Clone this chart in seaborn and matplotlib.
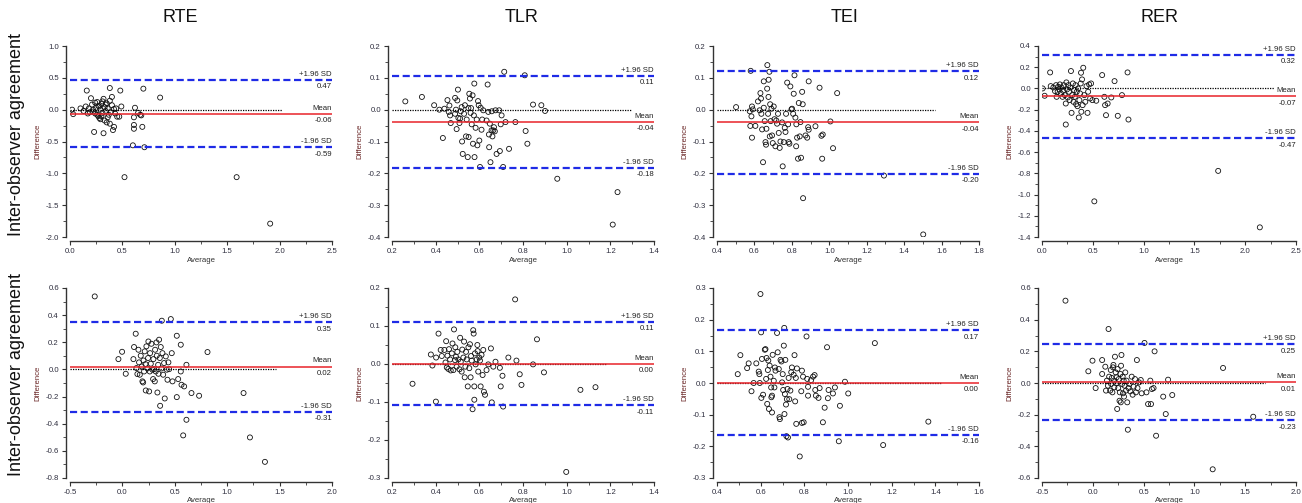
import numpy as np
import seaborn as sns
import matplotlib.pyplot as plt
from matplotlib.ticker import FormatStrFormatter
import matplotlib.transforms as mtransforms

# column titles and row labels
titles = ["RTE", "TLR", "TEI", "RER"]
row_labels = ["Inter-observer agreement", "Inter-observer agreement"]

# ---- row 1 ----
rte1_avg = [0.02, 0.03, 0.10, 0.13, 0.15, 0.16, 0.17, 0.18, 0.19, 0.20, 0.21, 0.22, 0.22, 0.23, 0.24, 0.24,
            0.25, 0.26, 0.26, 0.27, 0.27, 0.28, 0.28, 0.29, 0.29, 0.30, 0.30, 0.31, 0.31, 0.32, 0.32, 0.33,
            0.33, 0.34, 0.34, 0.35, 0.35, 0.36, 0.36, 0.37, 0.38, 0.38, 0.38, 0.39, 0.40, 0.40, 0.41, 0.42,
            0.42, 0.43, 0.44, 0.45, 0.47, 0.48, 0.49, 0.52, 0.60, 0.61, 0.61, 0.61, 0.62, 0.65, 0.67, 0.68,
            0.69, 0.70, 0.71, 0.86, 1.59, 1.91]
rte1_diff = [0.00, -0.07, 0.02, -0.02, 0.05, 0.30, -0.06, 0.02, -0.04, 0.18, 0.08, -0.03, 0.00, -0.35, 0.11, -0.06,
             0.03, -0.08, 0.12, 0.06, -0.10, -0.13, 0.05, 0.00, -0.15, 0.09, -0.10, -0.05, 0.13, -0.37, 0.17, 0.04,
             -0.17, -0.02, 0.08, 0.10, -0.20, 0.02, -0.12, -0.08, 0.34, 0.14, -0.22, -0.04, 0.20, 0.07, -0.32, -0.27,
             0.01, -0.06, 0.02, -0.11, -0.11, 0.30, 0.05, -1.06, -0.56, -0.12, -0.24, -0.30, 0.03, -0.05, -0.08, -0.09,
             -0.27, 0.33, -0.59, 0.19, -1.06, -1.79]

tlr1_avg = [0.261, 0.337, 0.393, 0.417, 0.440, 0.454, 0.460, 0.463, 0.466, 0.469, 0.433, 0.489, 0.493, 0.489,
            0.499, 0.502, 0.496, 0.504, 0.509, 0.512, 0.515, 0.519, 0.521, 0.524, 0.530, 0.534, 0.539, 0.542,
            0.547, 0.550, 0.551, 0.554, 0.557, 0.560, 0.562, 0.565, 0.569, 0.571, 0.575, 0.577, 0.578, 0.583,
            0.588, 0.591, 0.594, 0.597, 0.600, 0.603, 0.606, 0.610, 0.613, 0.618, 0.633, 0.638, 0.641, 0.644,
            0.645, 0.648, 0.651, 0.656, 0.657, 0.660, 0.664, 0.667, 0.671, 0.674, 0.679, 0.691, 0.694, 0.698,
            0.702, 0.709, 0.714, 0.720, 0.736, 0.765, 0.808, 0.812, 0.820, 0.846, 0.884, 0.901, 0.957, 1.211, 1.233]
tlr1_diff = [0.026, 0.040, 0.014, 0.000, 0.003, 0.030, -0.007, 0.013, -0.018, -0.042, -0.089, -0.013, 0.000, 0.037,
             0.029, 0.063, -0.061, -0.026, -0.042, -0.028, -0.005, 0.008, -0.100, -0.139, -0.013, 0.014, -0.084, -0.031,
             -0.149, 0.005, -0.086, 0.050, 0.035, -0.010, 0.005, -0.046, 0.045, -0.107, -0.018, 0.082, -0.149, -0.057,
             -0.031, -0.112, 0.027, 0.014, -0.097, -0.180, 0.006, -0.063, -0.031, -0.002, -0.034, 0.079, -0.007, -0.078,
             -0.118, -0.044, -0.165, -0.065, -0.005, -0.084, -0.065, -0.055, -0.068, -0.002, -0.139, -0.002, -0.130, -0.046,
             -0.018, -0.180, 0.119, -0.039, -0.123, -0.039, 0.108, -0.067, -0.107, 0.016, 0.014, -0.004, -0.217, -0.361, -0.259]

tei1_avg = [0.502, 0.575, 0.580, 0.584, 0.587, 0.591, 0.578, 0.587, 0.605, 0.619, 0.628, 0.632, 0.635, 0.637,
            0.641, 0.646, 0.650, 0.650, 0.655, 0.659, 0.662, 0.664, 0.668, 0.669, 0.673, 0.675, 0.676, 0.680,
            0.682, 0.684, 0.687, 0.691, 0.694, 0.698, 0.703, 0.707, 0.712, 0.717, 0.721, 0.726, 0.730, 0.735,
            0.739, 0.748, 0.751, 0.757, 0.762, 0.766, 0.769, 0.775, 0.780, 0.783, 0.787, 0.792, 0.798, 0.801,
            0.807, 0.810, 0.814, 0.819, 0.823, 0.824, 0.828, 0.833, 0.837, 0.842, 0.846, 0.849, 0.855, 0.858,
            0.860, 0.873, 0.882, 0.887, 0.890, 0.890, 0.926, 0.948, 0.958, 0.962, 0.965, 1.006, 1.020, 1.042,
            1.292, 1.502]
tei1_diff = [0.008, -0.005, 0.122, -0.021, 0.010, 0.001, -0.051, -0.088, -0.051, 0.026, -0.002, 0.052, 0.035, -0.013,
             -0.062, -0.165, 0.089, 0.006, -0.036, -0.102, -0.110, -0.060, 0.066, 0.140, -0.013, 0.040, 0.094, 0.119,
             -0.084, 0.017, -0.036, 0.003, -0.081, -0.105, 0.010, -0.030, -0.115, -0.034, -0.044, -0.013, -0.073, -0.120,
             -0.100, -0.040, -0.178, -0.102, -0.057, -0.070, -0.013, 0.085, -0.046, -0.102, -0.107, 0.073, 0.001, 0.003,
             -0.013, 0.050, 0.108, -0.025, -0.115, -0.046, -0.088, -0.154, 0.021, -0.084, -0.039, -0.151, 0.056, 0.017,
             -0.278, -0.081, -0.088, -0.055, -0.063, 0.089, -0.052, 0.069, -0.082, -0.154, -0.078, -0.037, -0.121, 0.052,
             -0.207, -0.392]

rer1_avg = [0.006, 0.026, 0.080, 0.086, 0.112, 0.128, 0.138, 0.144, 0.154, 0.160, 0.170, 0.176, 0.186, 0.192,
            0.202, 0.208, 0.214, 0.224, 0.234, 0.234, 0.240, 0.246, 0.253, 0.259, 0.266, 0.272, 0.278, 0.285,
            0.291, 0.298, 0.304, 0.310, 0.317, 0.323, 0.330, 0.336, 0.342, 0.349, 0.355, 0.362, 0.368, 0.374,
            0.381, 0.384, 0.387, 0.394, 0.400, 0.406, 0.416, 0.426, 0.438, 0.448, 0.454, 0.464, 0.474, 0.483,
            0.496, 0.534, 0.592, 0.614, 0.621, 0.630, 0.646, 0.682, 0.714, 0.746, 0.787, 0.842, 0.851, 0.515,
            1.734, 2.144]
rer1_diff = [0.000, -0.069, 0.151, 0.022, 0.009, -0.025, 0.031, -0.079, -0.031, 0.016, -0.009, 0.038, -0.047, 0.009,
             -0.079, -0.022, 0.031, -0.063, -0.142, -0.340, 0.057, -0.009, -0.085, 0.031, -0.031, -0.110, 0.009, 0.164,
             -0.230, -0.063, 0.047, -0.126, -0.016, -0.079, 0.031, -0.148, -0.031, -0.167, 0.000, -0.274, -0.110, -0.047,
             0.047, 0.148, -0.220, 0.085, -0.157, 0.195, -0.063, -0.126, 0.022, -0.230, -0.031, 0.038, -0.094, 0.047,
             -0.110, -0.116, 0.126, -0.079, -0.157, -0.252, -0.142, -0.085, 0.069, -0.258, -0.063, 0.151, -0.293, -1.064,
             -0.777, -1.309]

# ---- row 2 ----
rte2_avg = [-0.264, -0.038, -0.003, 0.032, 0.105, 0.111, 0.127, 0.134, 0.143, 0.153, 0.159, 0.166, 0.175, 0.185,
            0.191, 0.198, 0.201, 0.207, 0.213, 0.220, 0.223, 0.229, 0.239, 0.245, 0.248, 0.255, 0.261, 0.264,
            0.271, 0.277, 0.287, 0.293, 0.296, 0.303, 0.309, 0.312, 0.318, 0.325, 0.328, 0.334, 0.341, 0.344,
            0.350, 0.357, 0.360, 0.366, 0.373, 0.376, 0.382, 0.389, 0.398, 0.404, 0.414, 0.424, 0.430, 0.439,
            0.446, 0.462, 0.471, 0.478, 0.519, 0.519, 0.532, 0.557, 0.557, 0.564, 0.580, 0.589, 0.611, 0.611,
            0.659, 0.732, 0.812, 1.156, 1.217, 1.360]
rte2_diff = [0.538, 0.076, 0.130, -0.032, 0.076, 0.165, 0.263, 0.010, -0.034, 0.145, 0.052, -0.039, 0.101, 0.022,
             -0.088, -0.096, 0.066, -0.015, 0.133, 0.039, -0.155, 0.170, 0.007, 0.084, 0.206, -0.162, -0.015, 0.120,
             0.042, 0.189, -0.002, -0.071, 0.076, 0.002, -0.088, 0.145, -0.015, 0.199, 0.101, -0.170, 0.034, -0.032,
             0.219, 0.084, -0.268, 0.165, 0.007, 0.359, 0.120, -0.039, 0.047, -0.214, 0.096, -0.002, -0.076, 0.052,
             0.002, 0.371, 0.120, -0.088, -0.204, 0.248, -0.071, 0.182, -0.015, -0.113, -0.486, -0.125, -0.371, 0.034,
             -0.174, -0.194, 0.128, -0.174, -0.501, -0.681]

tlr2_avg = [0.294, 0.378, 0.385, 0.401, 0.402, 0.413, 0.423, 0.428, 0.440, 0.445, 0.448, 0.451, 0.454, 0.458,
            0.461, 0.466, 0.469, 0.474, 0.477, 0.481, 0.484, 0.489, 0.490, 0.493, 0.496, 0.499, 0.504, 0.509,
            0.512, 0.515, 0.519, 0.522, 0.527, 0.530, 0.533, 0.536, 0.539, 0.542, 0.547, 0.550, 0.554, 0.557,
            0.560, 0.562, 0.565, 0.569, 0.572, 0.574, 0.577, 0.577, 0.580, 0.583, 0.588, 0.591, 0.592, 0.595,
            0.600, 0.603, 0.606, 0.610, 0.615, 0.618, 0.621, 0.626, 0.633, 0.641, 0.653, 0.657, 0.664, 0.674,
            0.694, 0.698, 0.706, 0.709, 0.733, 0.764, 0.770, 0.785, 0.793, 0.846, 0.864, 0.896, 1.063, 1.132, 0.998]
tlr2_diff = [-0.052, 0.025, -0.004, -0.099, 0.017, 0.080, 0.037, 0.021, 0.037, 0.004, 0.060, -0.009, 0.022, -0.013,
             0.039, 0.012, -0.017, 0.028, 0.054, -0.016, 0.091, 0.010, 0.044, 0.019, -0.007, 0.032, 0.012, -0.014,
             0.069, 0.006, -0.020, 0.038, 0.017, 0.059, -0.035, -0.007, 0.032, 0.012, -0.059, 0.044, -0.011, 0.052,
             -0.035, 0.021, 0.009, -0.119, 0.089, 0.080, -0.059, -0.094, 0.028, -0.001, 0.012, 0.050, 0.034, -0.020,
             0.017, 0.009, -0.059, 0.024, -0.029, 0.037, -0.073, -0.081, -0.016, -0.001, 0.041, -0.101, -0.007, 0.006,
             -0.010, -0.059, -0.031, -0.112, 0.017, 0.170, 0.009, -0.027, -0.055, -0.001, 0.065, -0.022, -0.068, -0.061, -0.284]

tei2_avg = [0.495, 0.507, 0.538, 0.545, 0.558, 0.568, 0.580, 0.591, 0.594, 0.596, 0.599, 0.602, 0.603, 0.606,
            0.611, 0.619, 0.622, 0.625, 0.627, 0.630, 0.633, 0.635, 0.638, 0.641, 0.645, 0.648, 0.649, 0.652,
            0.652, 0.655, 0.660, 0.663, 0.665, 0.668, 0.675, 0.678, 0.683, 0.686, 0.688, 0.691, 0.695, 0.698,
            0.701, 0.703, 0.706, 0.708, 0.709, 0.711, 0.713, 0.716, 0.718, 0.720, 0.723, 0.725, 0.728, 0.731,
            0.736, 0.740, 0.743, 0.751, 0.755, 0.758, 0.761, 0.763, 0.766, 0.779, 0.786, 0.789, 0.789, 0.797,
            0.794, 0.810, 0.813, 0.817, 0.817, 0.831, 0.840, 0.847, 0.850, 0.853, 0.865, 0.870, 0.885, 0.893,
            0.904, 0.908, 0.911, 0.931, 0.940, 0.963, 0.958, 0.986, 1.001, 1.123, 1.161, 1.368]
tei2_diff = [0.028, 0.088, 0.047, 0.062, -0.026, 0.000, 0.062, 0.036, 0.028, 0.000, 0.281, 0.160, -0.047, 0.076,
             -0.037, 0.105, 0.107, 0.013, 0.079, -0.066, 0.041, 0.071, -0.082, 0.055, 0.020, -0.014, -0.045, -0.093,
             -0.040, 0.089, 0.007, -0.014, 0.049, 0.039, 0.158, 0.097, 0.044, -0.108, -0.114, 0.073, 0.068, 0.002,
             0.028, -0.022, 0.118, 0.174, -0.098, -0.035, 0.073, -0.068, -0.168, -0.051, -0.019, -0.172, 0.016, -0.051,
             -0.024, 0.034, 0.049, 0.026, 0.088, -0.058, 0.016, -0.129, 0.046, -0.232, -0.026, 0.039, -0.126, -0.124,
             0.020, 0.147, 0.013, -0.012, -0.040, 0.009, 0.020, 0.025, -0.022, -0.040, -0.047, -0.016, -0.124, -0.078,
             0.113, -0.048, -0.022, -0.033, -0.014, -0.072, -0.184, 0.004, -0.033, 0.126, -0.196, -0.122]

rer2_avg = [-0.269, -0.044, -0.003, 0.028, 0.092, 0.092, 0.123, 0.130, 0.139, 0.149, 0.155, 0.161, 0.171, 0.177,
            0.180, 0.187, 0.193, 0.199, 0.203, 0.209, 0.212, 0.218, 0.225, 0.231, 0.234, 0.240, 0.244, 0.250,
            0.256, 0.263, 0.266, 0.272, 0.275, 0.278, 0.282, 0.288, 0.294, 0.297, 0.304, 0.307, 0.313, 0.320,
            0.326, 0.332, 0.339, 0.345, 0.351, 0.361, 0.370, 0.383, 0.392, 0.402, 0.415, 0.424, 0.434, 0.440,
            0.456, 0.472, 0.481, 0.509, 0.528, 0.544, 0.566, 0.573, 0.582, 0.598, 0.608, 0.623, 0.693, 0.718,
            0.741, 0.782, 1.180, 1.282, 1.579]
rer2_diff = [0.520, 0.074, 0.141, -0.032, 0.145, 0.057, 0.103, -0.048, 0.015, -0.017, 0.341, 0.040, -0.048, 0.082,
             -0.006, 0.032, -0.059, 0.099, 0.114, 0.015, -0.027, 0.166, 0.067, -0.002, 0.036, -0.164, 0.088, -0.032,
             0.025, -0.112, -0.059, 0.057, -0.122, 0.109, 0.177, -0.006, 0.040, -0.065, 0.015, -0.086, -0.017, 0.067,
             -0.048, 0.015, -0.122, -0.295, -0.032, -0.006, -0.053, 0.040, -0.074, -0.023, 0.025, -0.059, 0.145, -0.032,
             0.004, 0.019, -0.065, 0.253, -0.059, -0.133, 0.015, -0.133, -0.038, -0.032, 0.200, -0.333, -0.086, -0.196,
             0.021, -0.076, -0.545, 0.095, -0.213]

# limits of agreement (upper, mean, lower) per panel, row by row
upper_loa = [0.466, 0.106, 0.121, 0.316, 0.348, 0.111, 0.166, 0.246]
mean_diff = [-0.063, -0.038, -0.039, -0.073, 0.021, 0.001, 0.001, 0.006]
lower_loa = [-0.592, -0.183, -0.201, -0.47, -0.311, -0.109, -0.164, -0.234]
# where the dotted zero line stops
zero_end = [2.02, 1.30, 1.565, 2.28, 1.465, 1.185, 1.424, 1.69]

# axis ranges and tick steps
x_lims = [(0, 2.5), (0.2, 1.4), (0.4, 1.8), (0, 2.5), (-0.5, 2.0), (0.2, 1.4), (0.4, 1.6), (-0.5, 2.0)]
x_steps = [0.5, 0.2, 0.2, 0.5, 0.5, 0.2, 0.2, 0.5]
y_lims = [(-2.0, 1.0), (-0.4, 0.2), (-0.4, 0.2), (-1.4, 0.4), (-0.8, 0.6), (-0.3, 0.2), (-0.3, 0.3), (-0.6, 0.6)]
y_steps = [0.5, 0.1, 0.1, 0.2, 0.2, 0.1, 0.1, 0.2]

avgs = [rte1_avg, tlr1_avg, tei1_avg, rer1_avg, rte2_avg, tlr2_avg, tei2_avg, rer2_avg]
diffs = [rte1_diff, tlr1_diff, tei1_diff, rer1_diff, rte2_diff, tlr2_diff, tei2_diff, rer2_diff]


def tick_range(lo, hi, step):
    n = int(round((hi - lo) / step))
    return np.round(lo + step * np.arange(n + 1), 3)


sns.set_theme(style="ticks")
plt.rcParams['font.family'] = ['Liberation Sans', 'DejaVu Sans']
plt.rcParams['axes.unicode_minus'] = False

fig = plt.figure(figsize=(13.02, 5.03), dpi=100)

lefts = [70, 392, 717, 1042]
widths = [262, 262, 262, 254]
rows = [(46, 237), (288, 478)]
W, H = 1302, 503
small = 5.6
tick_col = '#2e2e3e'

for i in range(8):
    r, c = divmod(i, 4)
    top, bot = rows[r]
    ax = fig.add_axes([lefts[c] / W, 1 - bot / H, widths[c] / W, (bot - top) / H])

    sns.scatterplot(x=avgs[i], y=diffs[i], ax=ax, s=13, linewidth=0.6, legend=False)
    coll = ax.collections[-1]
    coll.set_facecolor('none')
    coll.set_edgecolor('#111111')

    x0, x1 = x_lims[i]
    y0, y1 = y_lims[i]

    ax.plot([x0, zero_end[i]], [0, 0], color='black', lw=0.9, ls=(0, (1, 1)), zorder=1)
    ax.axhline(mean_diff[i], color='#e8232a', lw=1.1, zorder=1)
    for yv in (upper_loa[i], lower_loa[i]):
        ax.axhline(yv, color='#1f2be6', lw=1.6, ls=(0, (3.2, 1.6)), zorder=1)

    trans = mtransforms.blended_transform_factory(ax.transAxes, ax.transData)
    for yv, name in ((upper_loa[i], "+1.96 SD"), (mean_diff[i], "Mean"), (lower_loa[i], "-1.96 SD")):
        ax.annotate(name, xy=(1, yv), xycoords=trans, xytext=(0, 1.5), textcoords='offset points',
                    ha='right', va='bottom', fontsize=small, color='#222222')
        ax.annotate("%.2f" % yv, xy=(1, yv), xycoords=trans, xytext=(0, -2.5), textcoords='offset points',
                    ha='right', va='top', fontsize=small, color='#222222')

    ax.set_xticks(tick_range(x0, x1, x_steps[i]))
    ax.set_yticks(tick_range(y0, y1, y_steps[i]))
    ax.set_xticks(tick_range(x0, x1, x_steps[i] / 2), minor=True)
    ax.set_yticks(tick_range(y0, y1, y_steps[i] / 2), minor=True)
    ax.xaxis.set_major_formatter(FormatStrFormatter('%.1f'))
    ax.yaxis.set_major_formatter(FormatStrFormatter('%.1f'))
    ax.set_xlim(x0, x1)
    ax.set_ylim(y0, y1)
    ax.tick_params(which='major', length=3, width=0.8, labelsize=small, colors='#333333',
                   labelcolor=tick_col, pad=2)
    ax.tick_params(which='minor', length=2, width=0.6, colors='#333333')

    ax.set_xlabel("Average", fontsize=small, color='#333333', labelpad=1)
    ax.set_ylabel("Difference", fontsize=small, color='#6a2626', labelpad=3)

    sns.despine(ax=ax, offset=3)
    ax.spines['left'].set_bounds(y0, y1)
    ax.spines['bottom'].set_bounds(x0, x1)
    for sp in ('left', 'bottom'):
        ax.spines[sp].set_linewidth(1.0)
        ax.spines[sp].set_color('#333333')

title_x = [180, 522, 845, 1160]
for t, tx in zip(titles, title_x):
    fig.text(tx / W, 1 - 17 / H, t, ha='center', va='center', fontsize=13, color='#111111')

for lab, cy in zip(row_labels, [135, 375]):
    fig.text(17 / W, 1 - cy / H, lab, rotation=90, ha='center', va='center', fontsize=13, color='#111111')

fig.savefig("out.png", dpi=100)
